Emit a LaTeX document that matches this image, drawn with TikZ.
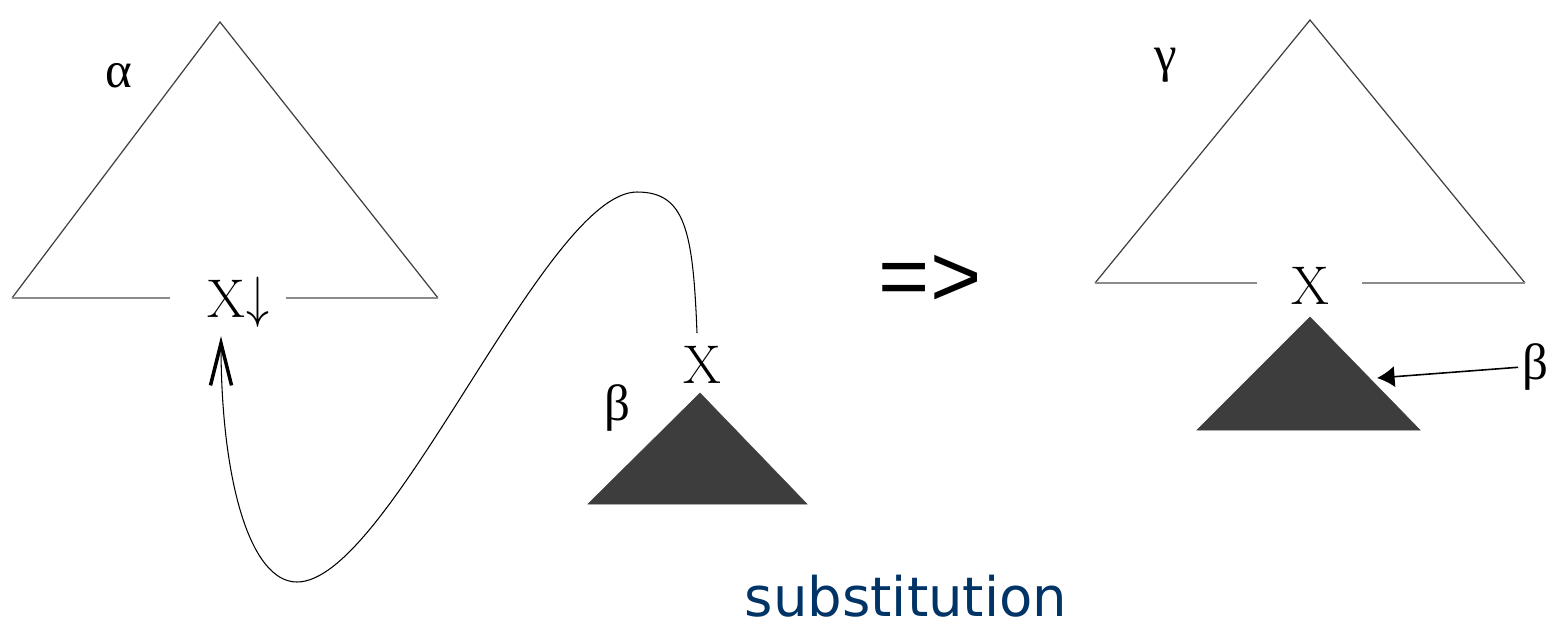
\documentclass[tikz,border=0pt]{standalone}
\usepackage{fontspec}
\usepackage{graphicx}
\usetikzlibrary{arrows.meta}
\newfontfamily\greekfont{Liberation Serif}
\newfontfamily\labelsans{DejaVu Sans}
\newfontfamily\arrowsans{Liberation Sans}
\definecolor{darkfill}{HTML}{3D3D3D}
\definecolor{subblue}{HTML}{003366}
\begin{document}
\begin{tikzpicture}[x=0.02cm,y=-0.02cm,
  side/.style={draw=black!75,line width=0.7pt},
  baseln/.style={draw=black!45,line width=1pt},
  darktri/.style={fill=darkfill,draw=darkfill,line width=0.3pt},
  lbl/.style={inner sep=0pt,font=\fontsize{31}{36}\selectfont},
  glbl/.style={inner sep=0pt,font=\greekfont\fontsize{29}{34}\selectfont},
  curve/.style={draw=black,line width=0.6pt},
]
\useasboundingbox (0,0) rectangle (1562,627);
% ---------- left tree alpha ----------
\coordinate (aTop) at (220,22);
\coordinate (aL) at (12,298);
\coordinate (aR) at (438,298);
\coordinate (aGapL) at (170,298);
\coordinate (aGapR) at (286,298);
\draw[side] (aL) -- (aTop) -- (aR);
\draw[baseln] (aL) -- (aGapL);
\draw[baseln] (aGapR) -- (aR);
\node[glbl] (alpha) at (119,76) {α};
\node[lbl] (xa) at (226,299) {X};
\node[inner sep=0pt,font=\fontsize{29}{34}\selectfont] (da) at (258,302) {\scalebox{1.05}[1.3]{$\downarrow$}};
% ---------- beta tree ----------
\coordinate (bTop) at (700,393);
\coordinate (bL) at (588,504);
\coordinate (bR) at (807,504);
\fill[darktri] (bTop) -- (bL) -- (bR) -- cycle;
\node[lbl] (xb) at (702,365) {X};
\node[glbl] (beta) at (617,408) {β};
% ---------- substitution curve ----------
\coordinate (cs) at (697,333);
\coordinate (ce) at (221,336);
\draw[curve,-{Straight Barb[length=24pt,width=12pt,line width=2pt]}]
  (cs) .. controls (693,230) and (685,192) .. (637,192)
       .. controls (545,192) and (390,582) .. (297,582)
       .. controls (250,582) and (221,480) .. (ce);
% ---------- implication ----------
\node[inner sep=0pt,font=\arrowsans\fontsize{50}{56}\selectfont] (impl) at (930,281) {=>};
% ---------- right tree gamma ----------
\coordinate (gTop) at (1310,20);
\coordinate (gL) at (1095,283);
\coordinate (gR) at (1525,283);
\coordinate (gGapL) at (1257,283);
\coordinate (gGapR) at (1362,283);
\draw[side] (gL) -- (gTop) -- (gR);
\draw[baseln] (gL) -- (gGapL);
\draw[baseln] (gGapR) -- (gR);
\node[glbl] (gamma) at (1166,65) {γ};
\node[lbl] (xc) at (1310,286) {X};
\coordinate (cTop) at (1310,317);
\coordinate (cL) at (1197,430);
\coordinate (cR) at (1420,430);
\fill[darktri] (cTop) -- (cL) -- (cR) -- cycle;
\node[glbl] (betar) at (1535,367) {β};
\coordinate (betaHit) at (1377,378);
\draw[line width=0.9pt,-{Latex[length=10pt,width=12pt]},shorten <=2pt] (betar.west) -- (betaHit);
% ---------- caption ----------
\node[inner sep=0pt,text=subblue,font=\labelsans\fontsize{31}{36}\selectfont] (cap) at (906,596) {substitution};
\end{tikzpicture}
\end{document}
